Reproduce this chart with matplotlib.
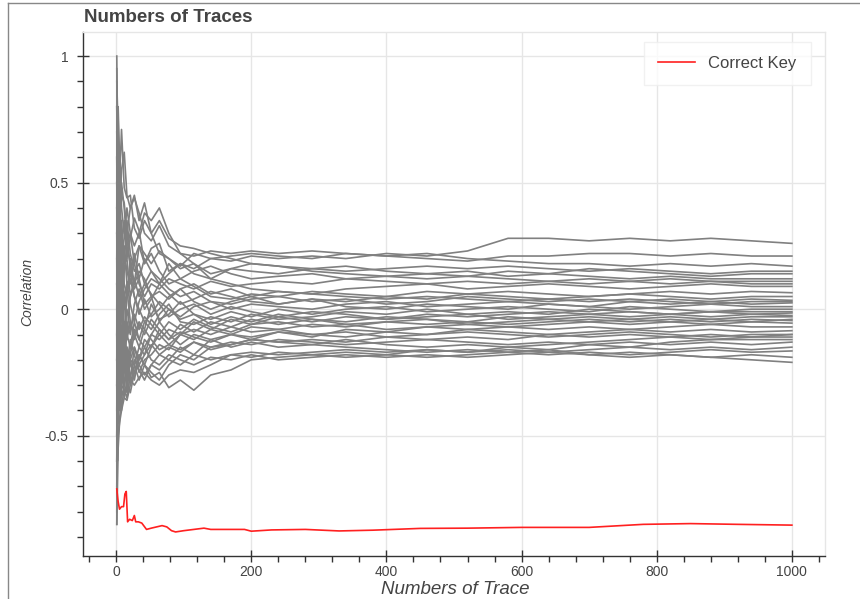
import numpy as np
import matplotlib
matplotlib.use("Agg")
import matplotlib.pyplot as plt
from matplotlib.ticker import MultipleLocator, FixedLocator
from matplotlib.lines import Line2D

plt.rcParams["font.family"] = ["Liberation Sans", "DejaVu Sans"]

# trace counts at which the wrong-key curves were read
trace_pts = [1, 2, 3, 5, 8, 12, 16, 21, 27, 34, 42, 52, 64, 78, 95, 115, 140,
             170, 200, 240, 290, 340, 400, 460, 520, 580, 640, 700, 760, 820,
             880, 940, 1000]

# correlation of each wrong key guess
wrong_keys = [
    [1.0, 0.62, 0.45, 0.30, 0.12, 0.05, 0.10, 0.02, -0.05, 0.03, 0.08, 0.12, 0.10, 0.14, 0.18, 0.16, 0.20, 0.19, 0.21, 0.20, 0.21, 0.20, 0.22, 0.21, 0.23, 0.28, 0.28, 0.27, 0.28, 0.27, 0.28, 0.27, 0.26],
    [-0.85, -0.2, 0.1, 0.35, 0.55, 0.62, 0.45, 0.40, 0.44, 0.38, 0.30, 0.27, 0.33, 0.25, 0.22, 0.21, 0.23, 0.22, 0.23, 0.22, 0.23, 0.22, 0.21, 0.20, 0.19, 0.21, 0.21, 0.22, 0.22, 0.21, 0.22, 0.21, 0.21],
    [0.9, 0.8, 0.7, 0.5, 0.71, 0.48, 0.44, 0.45, 0.32, 0.28, 0.35, 0.30, 0.22, 0.20, 0.17, 0.22, 0.20, 0.21, 0.22, 0.21, 0.20, 0.22, 0.21, 0.22, 0.20, 0.19, 0.18, 0.18, 0.17, 0.18, 0.17, 0.18, 0.17],
    [0.5, 0.3, 0.6, 0.4, 0.25, 0.35, 0.20, 0.28, 0.36, 0.31, 0.18, 0.24, 0.26, 0.15, 0.18, 0.14, 0.12, 0.16, 0.18, 0.17, 0.16, 0.15, 0.16, 0.17, 0.16, 0.17, 0.16, 0.15, 0.16, 0.15, 0.14, 0.15, 0.15],
    [-0.3, 0.2, 0.4, 0.25, 0.1, 0.2, 0.32, 0.15, 0.22, 0.12, 0.20, 0.15, 0.10, 0.18, 0.12, 0.15, 0.17, 0.14, 0.12, 0.13, 0.14, 0.12, 0.13, 0.14, 0.13, 0.15, 0.14, 0.16, 0.15, 0.14, 0.13, 0.14, 0.14],
    [0.2, -0.4, -0.1, 0.15, 0.3, 0.1, 0.05, 0.2, 0.1, 0.25, 0.22, 0.18, 0.23, 0.20, 0.16, 0.18, 0.14, 0.16, 0.15, 0.14, 0.16, 0.17, 0.15, 0.14, 0.15, 0.13, 0.14, 0.13, 0.12, 0.13, 0.12, 0.12, 0.12],
    [0.7, 0.55, 0.3, 0.1, -0.05, 0.15, 0.25, 0.30, 0.18, 0.10, 0.05, 0.10, 0.08, 0.12, 0.10, 0.08, 0.11, 0.09, 0.10, 0.11, 0.10, 0.12, 0.11, 0.10, 0.11, 0.10, 0.11, 0.10, 0.11, 0.10, 0.11, 0.10, 0.10],
    [-0.6, -0.3, -0.2, 0.0, 0.15, 0.05, -0.10, 0.05, 0.10, 0.15, 0.12, 0.05, 0.07, 0.04, 0.08, 0.10, 0.06, 0.08, 0.05, 0.07, 0.06, 0.08, 0.09, 0.10, 0.08, 0.09, 0.10, 0.09, 0.08, 0.09, 0.10, 0.09, 0.09],
    [0.3, 0.5, 0.2, 0.45, 0.3, 0.22, 0.15, 0.10, 0.20, 0.25, 0.18, 0.22, 0.15, 0.10, 0.12, 0.09, 0.05, 0.04, 0.06, 0.05, 0.07, 0.06, 0.05, 0.07, 0.06, 0.07, 0.06, 0.05, 0.06, 0.07, 0.06, 0.07, 0.065],
    [-0.2, 0.1, -0.3, -0.1, 0.05, -0.15, -0.05, -0.10, 0.02, 0.08, 0.00, 0.04, 0.10, 0.06, 0.02, 0.04, 0.07, 0.05, 0.03, 0.02, 0.04, 0.03, 0.05, 0.04, 0.06, 0.05, 0.04, 0.05, 0.06, 0.05, 0.04, 0.05, 0.05],
    [0.8, 0.4, 0.55, 0.6, 0.4, 0.3, 0.35, 0.22, 0.15, 0.18, 0.10, 0.15, 0.12, 0.08, 0.05, 0.07, 0.03, 0.02, 0.04, 0.05, 0.03, 0.04, 0.02, 0.03, 0.05, 0.04, 0.03, 0.04, 0.03, 0.04, 0.03, 0.04, 0.035],
    [-0.5, -0.1, 0.1, -0.2, -0.3, -0.2, -0.28, -0.15, -0.08, -0.12, -0.05, -0.02, 0.03, 0.00, -0.03, 0.01, 0.03, 0.00, 0.02, 0.01, 0.00, 0.02, 0.03, 0.01, 0.02, 0.03, 0.02, 0.01, 0.03, 0.02, 0.03, 0.02, 0.025],
    [0.4, 0.2, -0.1, 0.2, 0.05, 0.25, 0.1, 0.12, 0.05, -0.02, 0.04, -0.03, 0.00, 0.05, 0.08, 0.03, 0.00, 0.03, 0.05, 0.02, 0.04, 0.01, 0.00, 0.02, 0.01, 0.00, 0.02, 0.01, 0.00, 0.01, 0.02, 0.01, 0.01],
    [-0.1, 0.3, 0.5, 0.3, 0.2, 0.0, 0.08, -0.05, -0.10, -0.05, -0.08, 0.02, -0.04, -0.02, 0.03, -0.02, -0.04, -0.01, -0.03, 0.00, -0.02, 0.00, 0.01, -0.01, 0.00, 0.01, 0.00, -0.01, 0.01, 0.00, -0.01, 0.00, 0.0],
    [0.6, 0.1, 0.3, 0.0, -0.2, -0.1, 0.05, 0.15, 0.05, 0.00, -0.05, -0.08, -0.02, 0.02, -0.05, -0.06, -0.03, -0.05, -0.02, -0.04, -0.03, -0.01, -0.02, 0.00, -0.02, -0.01, -0.02, 0.00, -0.01, -0.02, -0.01, -0.01, -0.01],
    [-0.7, -0.45, -0.35, -0.3, -0.1, -0.25, -0.15, -0.2, -0.22, -0.15, -0.18, -0.10, -0.12, -0.08, -0.10, -0.05, -0.08, -0.04, -0.06, -0.03, -0.05, -0.03, -0.04, -0.02, -0.03, -0.02, -0.01, -0.02, -0.01, -0.02, -0.01, -0.02, -0.015],
    [0.1, -0.2, 0.2, 0.1, 0.35, 0.18, 0.2, 0.05, 0.12, 0.05, 0.10, 0.06, 0.02, -0.03, 0.00, 0.02, -0.02, 0.01, -0.01, -0.03, -0.01, -0.02, -0.04, -0.03, -0.02, -0.04, -0.03, -0.02, -0.03, -0.02, -0.03, -0.02, -0.025],
    [-0.4, 0.0, -0.15, -0.35, -0.2, -0.05, -0.2, -0.28, -0.15, -0.20, -0.12, -0.15, -0.08, -0.12, -0.06, -0.09, -0.05, -0.07, -0.04, -0.06, -0.04, -0.05, -0.03, -0.04, -0.05, -0.03, -0.04, -0.03, -0.04, -0.03, -0.04, -0.03, -0.03],
    [0.95, 0.7, 0.5, 0.3, 0.5, 0.4, 0.25, 0.18, 0.08, 0.12, 0.02, 0.05, -0.05, 0.00, -0.04, -0.02, -0.06, -0.03, -0.05, -0.02, -0.04, -0.06, -0.05, -0.04, -0.06, -0.05, -0.04, -0.05, -0.04, -0.05, -0.04, -0.05, -0.04],
    [-0.8, -0.5, -0.4, -0.2, -0.35, -0.3, -0.22, -0.12, -0.18, -0.25, -0.20, -0.18, -0.14, -0.16, -0.10, -0.12, -0.08, -0.10, -0.07, -0.08, -0.06, -0.07, -0.05, -0.06, -0.05, -0.06, -0.05, -0.04, -0.05, -0.04, -0.05, -0.04, -0.045],
    [0.2, 0.6, 0.75, 0.45, 0.2, -0.1, 0.0, -0.08, -0.02, -0.08, -0.03, -0.06, -0.10, -0.05, -0.08, -0.04, -0.07, -0.09, -0.06, -0.05, -0.07, -0.06, -0.08, -0.07, -0.06, -0.07, -0.06, -0.05, -0.06, -0.05, -0.06, -0.05, -0.055],
    [-0.3, -0.6, -0.5, -0.45, -0.4, -0.35, -0.36, -0.3, -0.25, -0.22, -0.26, -0.22, -0.18, -0.20, -0.15, -0.18, -0.12, -0.10, -0.12, -0.09, -0.11, -0.08, -0.09, -0.07, -0.08, -0.07, -0.08, -0.07, -0.08, -0.07, -0.06, -0.07, -0.07],
    [0.5, 0.2, 0.0, -0.2, 0.1, 0.05, -0.12, -0.05, -0.12, -0.06, -0.10, -0.04, -0.08, -0.12, -0.09, -0.11, -0.13, -0.10, -0.11, -0.09, -0.10, -0.11, -0.09, -0.10, -0.08, -0.09, -0.10, -0.09, -0.08, -0.09, -0.08, -0.09, -0.085],
    [-0.6, -0.2, 0.1, -0.1, -0.25, -0.15, -0.3, -0.2, -0.28, -0.18, -0.22, -0.25, -0.28, -0.22, -0.18, -0.20, -0.15, -0.14, -0.12, -0.13, -0.12, -0.13, -0.11, -0.12, -0.11, -0.12, -0.10, -0.11, -0.10, -0.11, -0.10, -0.11, -0.10],
    [0.8, 0.5, 0.6, 0.2, 0.0, -0.2, -0.1, -0.15, -0.05, -0.12, -0.15, -0.10, -0.05, -0.10, -0.14, -0.10, -0.12, -0.15, -0.13, -0.15, -0.14, -0.12, -0.14, -0.15, -0.14, -0.15, -0.14, -0.13, -0.12, -0.11, -0.12, -0.11, -0.11],
    [-0.85, -0.7, -0.55, -0.45, -0.3, -0.25, -0.2, -0.28, -0.3, -0.27, -0.25, -0.28, -0.30, -0.26, -0.24, -0.25, -0.22, -0.18, -0.17, -0.18, -0.17, -0.16, -0.17, -0.16, -0.17, -0.15, -0.16, -0.14, -0.15, -0.13, -0.12, -0.12, -0.12],
    [0.3, -0.1, -0.3, -0.1, -0.15, -0.1, -0.25, -0.18, -0.1, -0.15, -0.08, -0.12, -0.16, -0.14, -0.16, -0.13, -0.15, -0.13, -0.14, -0.12, -0.13, -0.14, -0.13, -0.12, -0.13, -0.14, -0.13, -0.14, -0.13, -0.14, -0.13, -0.14, -0.13],
    [-0.2, -0.35, -0.2, -0.4, -0.3, -0.32, -0.35, -0.26, -0.2, -0.24, -0.28, -0.22, -0.24, -0.20, -0.22, -0.18, -0.20, -0.18, -0.19, -0.17, -0.18, -0.17, -0.18, -0.16, -0.17, -0.16, -0.17, -0.16, -0.15, -0.16, -0.15, -0.16, -0.15],
    [0.6, 0.3, 0.0, 0.1, -0.1, -0.22, -0.15, -0.3, -0.22, -0.28, -0.22, -0.27, -0.25, -0.31, -0.28, -0.32, -0.26, -0.24, -0.20, -0.19, -0.18, -0.19, -0.18, -0.19, -0.18, -0.17, -0.18, -0.17, -0.18, -0.17, -0.16, -0.17, -0.165],
    [-0.5, -0.25, -0.45, -0.25, -0.4, -0.3, -0.18, -0.22, -0.25, -0.20, -0.15, -0.2, -0.22, -0.18, -0.2, -0.22, -0.19, -0.2, -0.18, -0.2, -0.19, -0.18, -0.19, -0.18, -0.19, -0.18, -0.17, -0.18, -0.19, -0.18, -0.19, -0.18, -0.19],
    [0.0, 0.4, 0.2, -0.1, -0.3, -0.2, -0.33, -0.2, -0.15, -0.22, -0.18, -0.14, -0.18, -0.15, -0.17, -0.13, -0.16, -0.14, -0.12, -0.13, -0.14, -0.15, -0.16, -0.17, -0.16, -0.17, -0.16, -0.18, -0.17, -0.18, -0.19, -0.20, -0.21],
    [0.4, 0.7, 0.8, 0.6, 0.45, 0.42, 0.3, 0.40, 0.45, 0.35, 0.42, 0.30, 0.35, 0.28, 0.25, 0.24, 0.22, 0.20, 0.18, 0.17, 0.15, 0.14, 0.13, 0.12, 0.13, 0.12, 0.11, 0.12, 0.11, 0.12, 0.11, 0.11, 0.11],
    [-0.1, -0.5, -0.3, 0.0, 0.2, 0.28, 0.40, 0.30, 0.25, 0.30, 0.38, 0.35, 0.40, 0.30, 0.22, 0.18, 0.12, 0.10, 0.08, 0.07, 0.06, 0.05, 0.04, 0.05, 0.04, 0.03, 0.04, 0.03, 0.04, 0.03, 0.02, 0.03, 0.03],
    [0.1, 0.2, -0.4, -0.3, -0.15, -0.35, -0.28, -0.33, -0.25, -0.18, -0.22, -0.15, -0.10, -0.14, -0.10, -0.08, -0.10, -0.07, -0.09, -0.08, -0.10, -0.09, -0.11, -0.10, -0.09, -0.10, -0.11, -0.10, -0.09, -0.10, -0.11, -0.10, -0.10],
]

# correct key curve
correct_pts = [1, 3, 5, 8, 11, 13, 15, 17, 20, 24, 27, 29, 33, 38, 45, 52, 60,
               68, 75, 82, 88, 100, 115, 130, 140, 160, 190, 200, 230, 280,
               330, 380, 450, 520, 600, 700, 780, 850, 920, 1000]
correct_key = [-0.71, -0.76, -0.79, -0.78, -0.78, -0.73, -0.72, -0.84, -0.83,
               -0.835, -0.815, -0.84, -0.84, -0.845, -0.87, -0.865, -0.86,
               -0.855, -0.86, -0.875, -0.88, -0.875, -0.87, -0.865, -0.87,
               -0.87, -0.87, -0.877, -0.872, -0.87, -0.876, -0.873, -0.866,
               -0.865, -0.862, -0.862, -0.85, -0.847, -0.85, -0.853]

text_col = "#444444"
grid_col = "#e6e6e6"

fig = plt.figure(figsize=(8.6, 5.99), dpi=100)
ax = fig.add_axes([83 / 860, 1 - 556 / 599, (825 - 83) / 860, (556 - 32) / 599])

for vals in wrong_keys:
    ax.plot(trace_pts, vals, color="#808080", lw=1.2, zorder=2)
ax.plot(correct_pts, correct_key, color="#ff2020", lw=1.2, zorder=3)

ax.set_xlim(-49, 1049)
ax.set_ylim(-0.975, 1.095)

ax.xaxis.set_major_locator(FixedLocator([0, 200, 400, 600, 800, 1000]))
ax.xaxis.set_minor_locator(MultipleLocator(40))
ax.yaxis.set_major_locator(FixedLocator([-0.5, 0, 0.5, 1]))
ax.yaxis.set_minor_locator(MultipleLocator(0.1))
ax.set_yticklabels(["-0.5", "0", "0.5", "1"])

ax.grid(True, which="major", color=grid_col, lw=1, zorder=0)
ax.tick_params(which="major", direction="inout", length=9, width=1,
               color="#333333", labelcolor=text_col, labelsize=10)
ax.tick_params(axis="x", which="major", pad=2)
ax.tick_params(axis="y", which="major", pad=6)
ax.tick_params(which="minor", direction="out", length=4, width=1, color="#333333")
ax.tick_params(axis="x", which="both", top=False)
ax.tick_params(axis="y", which="both", right=False)

for side in ["left", "bottom"]:
    ax.spines[side].set_color("#333333")
    ax.spines[side].set_linewidth(1)
for side in ["top", "right"]:
    ax.spines[side].set_color(grid_col)
    ax.spines[side].set_linewidth(1)

leg = ax.legend([Line2D([], [], color="#ff2020", lw=1.2)], ["Correct Key"],
                loc="upper right", bbox_to_anchor=(0.981, 0.981),
                borderaxespad=0, fontsize=12, frameon=True, fancybox=False,
                handlelength=2.2, borderpad=0.85, labelcolor=text_col)
leg.get_frame().set_edgecolor("#eeeeee")
leg.get_frame().set_linewidth(1)

fig.text(84 / 860, 1 - 18 / 599, "Numbers of Traces", fontsize=13.5,
         fontweight="bold", color=text_col, va="center", ha="left")
fig.text(455 / 860, 1 - 589 / 599, "Numbers of Trace", fontsize=13.5,
         style="italic", color=text_col, va="center", ha="center")
fig.text(27 / 860, 1 - 292 / 599, "Correlation", fontsize=10,
         style="italic", color=text_col, va="center", ha="center",
         rotation=90)

# screenshot border on the left and top
fig.add_artist(Line2D([8 / 860, 8 / 860], [0, 1 - 3 / 599], color="#888888",
                      lw=1, transform=fig.transFigure))
fig.add_artist(Line2D([8 / 860, 1], [1 - 3 / 599, 1 - 3 / 599], color="#888888",
                      lw=1, transform=fig.transFigure))

fig.savefig("out.png", dpi=100)
